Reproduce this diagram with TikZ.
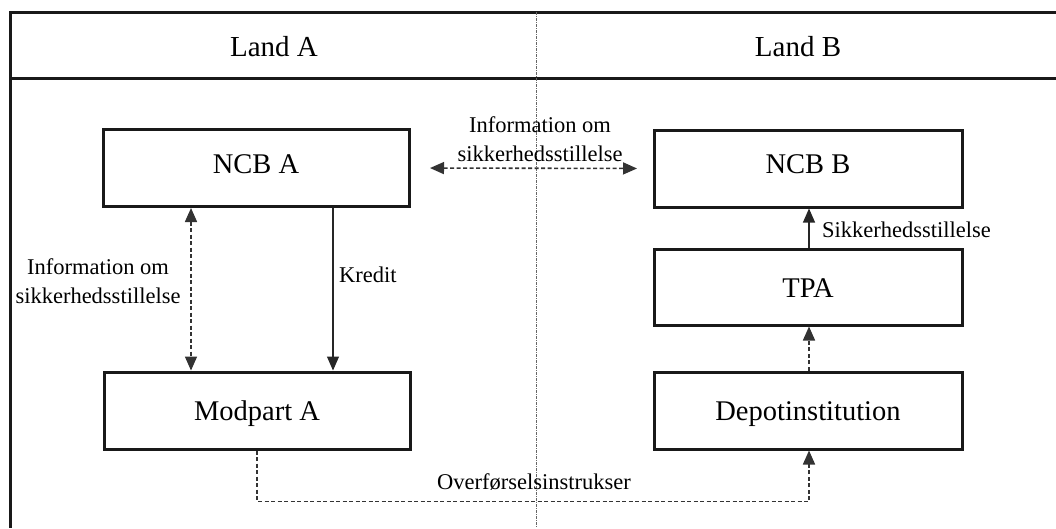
\documentclass[tikz,border=0pt]{standalone}
\usepackage{fontspec}
\setmainfont{Liberation Serif}
\usetikzlibrary{arrows.meta,calc}
\begin{document}
\begin{tikzpicture}[x=1pt,y=-1pt,
  box/.style={draw=black!90, line width=3pt, minimum width=306pt, minimum height=77pt, inner sep=0pt,
    text height=20pt, text depth=0pt, font=\fontsize{28.5}{34}\selectfont},
  rbox/.style={box, minimum width=308pt},
  lbl/.style={font=\fontsize{22.5}{29}\selectfont, inner sep=0pt, align=center},
  hdr/.style={font=\fontsize{29}{34}\selectfont, inner sep=0pt},
  tip/.style={-{Triangle[length=14pt,width=12pt]}},
  dtip/.style={{Triangle[length=14pt,width=12pt]}-{Triangle[length=14pt,width=12pt]}},
  dashline/.style={line width=1.6pt, draw=black!80, dash pattern=on 4pt off 2.5pt},
  solidline/.style={line width=1.1pt, draw=black!85},
  frame/.style={line width=3pt, draw=black!90},
]
\useasboundingbox (0,0) rectangle (1056,528);
% frame
\draw[frame] (1056,12.5) -- (10,12.5) -- (10,528);
\draw[frame] (10,78) -- (1056,78);
\draw[black!60, line width=1pt, dash pattern=on 3pt off 1pt on 1pt off 1pt] (536,12) -- (536,528);
% headers
\node[hdr, anchor=base] (la) at (274,56) {Land A};
\node[hdr, anchor=base] (lb) at (798,56) {Land B};
% boxes
\node[box, text depth=10pt] (ncba) at (256,168) {NCB A};
\node[box] (moda) at (257,410.5) {Modpart A};
\node[rbox, text depth=10pt] (ncbb) at (808,168.5) {NCB B};
\node[rbox, minimum height=76pt] (tpa) at (808,287) {TPA};
\node[rbox] (depot) at (808,410.5) {Depotinstitution};
% connectors
\draw[dashline, dtip, shorten <=19.5pt, shorten >=15.5pt] (ncba.east) -- (ncbb.west);
\node[lbl] (l1) at (540,139) {Information om\\sikkerhedsstillelse};
\draw[dashline, dtip] ([xshift=-65pt]ncba.south) -- ([xshift=-66pt]moda.north);
\node[lbl] (l2) at (98,281) {Information om\\sikkerhedsstillelse};
\draw[solidline, tip] ([xshift=77pt]ncba.south) -- ([xshift=76pt]moda.north);
\node[lbl, anchor=west] (l3) at (339,275) {Kredit};
\draw[solidline, tip] ([xshift=1pt]tpa.north) -- ([xshift=1pt]ncbb.south);
\node[lbl, anchor=west] (l4) at (822,230) {Sikkerhedsstillelse};
\draw[dashline, tip] ([xshift=1pt]depot.north) -- ([xshift=1pt]tpa.south);
\coordinate (ov) at ($(moda.south)+(0,51)$);
\draw[dashline, tip] (moda.south) -- (ov) -| ([xshift=1pt]depot.south);
\node[lbl] (l5) at (534,482) {Overførselsinstrukser};
\end{tikzpicture}
\end{document}
